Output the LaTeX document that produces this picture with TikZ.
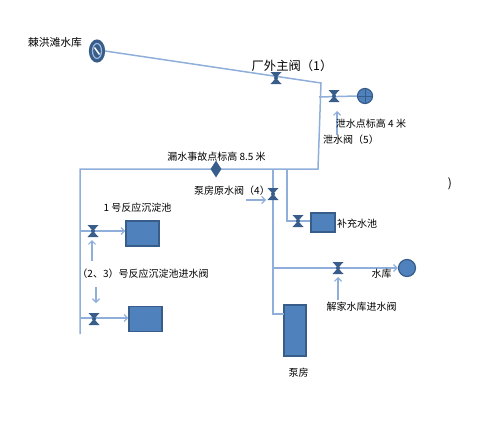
\documentclass[tikz,border=0pt]{standalone}
\usepackage{fontspec}
\setmainfont{Noto Sans CJK SC}
\usetikzlibrary{arrows.meta,shapes.geometric}
\definecolor{pipeblue}{HTML}{8FAFDA}
\definecolor{fillblue}{HTML}{4F81BD}
\definecolor{edgeblue}{HTML}{385D8A}

\begin{document}
\begin{tikzpicture}[
  x=1pt,y=-1pt,
  font=\fontsize{10pt}{11pt}\selectfont,
  >={Straight Barb[length=3.5pt,width=7pt]},
  pipe/.style={draw=pipeblue,line width=1.5pt},
  flow/.style={->,draw=pipeblue,line width=1.2pt},
  tank/.style={rectangle,draw=edgeblue,fill=fillblue,line width=1.2pt,inner sep=0pt},
  basin/.style={tank,minimum width=33pt,minimum height=25pt},
  res/.style={circle,draw=edgeblue,fill=fillblue,line width=1.2pt,inner sep=0pt},
  lbl/.style={inner sep=0pt,text=black},
  valve/.style={inner sep=0pt,minimum width=11pt,minimum height=12pt,path picture={
    \fill[edgeblue] (path picture bounding box.north west) -- (path picture bounding box.north east)
      -- (path picture bounding box.south west) -- (path picture bounding box.south east) -- cycle;
    \fill[edgeblue] (path picture bounding box.center) circle (2pt);}}
]
\useasboundingbox (0,0) rectangle (489,431);

% points on the pipes
\coordinate (corner) at (321,83);
\coordinate (bend) at (318,169);
\coordinate (west) at (80,169);
\coordinate (westend) at (80,334);
\coordinate (drainstart) at (319,97);
\coordinate (pumptop) at (273,169);
\coordinate (pumpend) at (273,314);
\coordinate (pumpstub) at (284,314);
\coordinate (pooltop) at (287,169);
\coordinate (poolbend) at (287,221);
\coordinate (j2) at (80,231);
\coordinate (j3) at (80,318);
\coordinate (j6) at (273,268);

% equipment
\node[ellipse,draw=edgeblue,fill=edgeblue,line width=1.2pt,inner sep=0pt,minimum width=15pt,minimum height=22pt] (jhres) at (97,51) {};
\node[res,minimum size=15pt] (drain) at (365,96) {};
\node[basin,minimum width=24pt,minimum height=19pt] (pool) at (323,222.5) {};
\node[basin] (basinA) at (142.5,233.5) {};
\node[basin] (basinB) at (145.5,319) {};
\node[res,minimum size=17pt] (jjres) at (407,268) {};
\node[tank,minimum width=22pt,minimum height=51pt] (pump) at (295,330.5) {};

% pipes
\draw[pipe] (jhres.east) -- (corner) -- (bend) -- (west) -- (westend);
\draw[pipe] (drainstart) -- (drain.west);
\draw[pipe] (pumptop) -- (pumpend) -- (pumpstub);
\draw[pipe] (pooltop) -- (poolbend) -- (pool.west |- poolbend);
\draw[flow] (j2) -- (basinA.west |- j2);
\draw[flow] (j3) -- (basinB.west |- j3);
\draw[flow] (j6) -- (jjres.west);

% reservoir marks
\draw[fillblue!55!white,line width=1.2pt] (jhres.center) ellipse (4.5pt and 7.5pt);
\draw[white,line width=1.4pt] (94.5,47.5) -- (99.5,54.5);
\draw[edgeblue,line width=.8pt] (drain.north) -- (drain.south);
\draw[edgeblue,line width=.8pt] (drain.west) -- (drain.east);

% valves
\node[valve] (v1) at (276,78) {};
\node[valve] (v5) at (334,96) {};
\node[valve] (v4) at (273,194) {};
\node[valve] (v2) at (93,231) {};
\node[valve] (v3) at (94,319) {};
\node[valve] (vpool) at (298,221) {};
\node[valve] (v6) at (338,268) {};
\node[diamond,fill=edgeblue,inner sep=0pt,minimum width=11pt,minimum height=17pt] (leak) at (216,169) {};

% pointers to the valves
\coordinate (v5tail) at (337,135);
\coordinate (v5tip) at (337,111);
\coordinate (v4tail) at (246,200);
\coordinate (v4tip) at (266,200);
\coordinate (v2tail) at (92,261);
\coordinate (v2tip) at (92,240);
\coordinate (v3tail) at (96,287);
\coordinate (v3tip) at (96,303);
\coordinate (v6tail) at (338,300);
\coordinate (v6tip) at (338,277);
\draw[flow] (v5tail) -- (v5tip);
\draw[flow] (v4tail) -- (v4tip);
\draw[flow] (v2tail) -- (v2tip);
\draw[flow] (v3tail) -- (v3tip);
\draw[flow] (v6tail) -- (v6tip);

% labels
\node[lbl,font=\fontsize{10.8pt}{12pt}\selectfont] (jhlabel) at (55,42) {棘洪滩水库};
\node[lbl,font=\fontsize{12.3pt}{13pt}\selectfont] (v1label) at (292,66) {厂外主阀（1）};
\node[lbl] (drainlabel) at (371,124) {泄水点标高 4 米};
\node[lbl] (v5label) at (351,140) {泄水阀（5）};
\node[lbl] (leaklabel) at (216.5,157) {漏水事故点标高 8.5 米};
\node[lbl] (v4label) at (232,191) {泵房原水阀（4）};
\node[lbl] (poollabel) at (357,224) {补充水池};
\node[lbl] (basinlabel) at (137.5,208) {1 号反应沉淀池};
\node[lbl] (v23label) at (143,274) {（2、3）号反应沉淀池进水阀};
\node[lbl] (jjlabel) at (381.5,274) {水库};
\node[lbl] (v6label) at (361.5,307) {解家水库进水阀};
\node[lbl] (pumplabel) at (298.5,373) {泵房};
\node[lbl,font=\fontsize{12pt}{13pt}\selectfont] (stray) at (450,184) {)};
\end{tikzpicture}
\end{document}
